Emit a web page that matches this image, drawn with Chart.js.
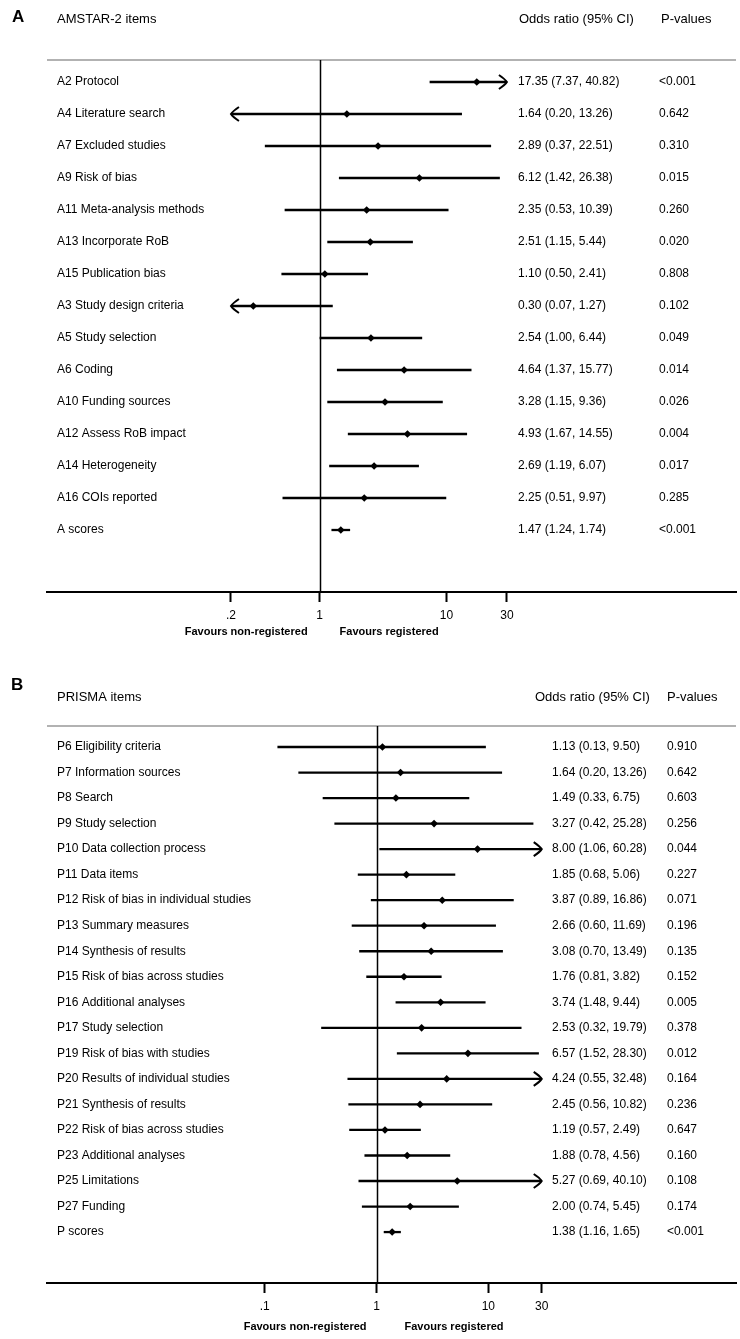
<!DOCTYPE html>
<html>
<head>
<title>Registered vs non-registered reviews</title>
<script src="https://cdn.jsdelivr.net/npm/chart.js@4.4.0/dist/chart.umd.min.js"></script>
<style>
body { margin: 0; background: #fff; }
.panel { position: absolute; left: 0; }
</style>
</head>
<body>
<canvas id="chartA" class="panel" width="740" height="660" style="top:0px"></canvas>
<canvas id="chartB" class="panel" width="740" height="679" style="top:660px"></canvas>
<script>
// Panel A - AMSTAR-2 items
const amstarItems = [
  "A2 Protocol", "A4 Literature search", "A7 Excluded studies", "A9 Risk of bias",
  "A11 Meta-analysis methods", "A13 Incorporate RoB", "A15 Publication bias",
  "A3 Study design criteria", "A5 Study selection", "A6 Coding", "A10 Funding sources",
  "A12 Assess RoB impact", "A14 Heterogeneity", "A16 COIs reported", "A scores"
];
const amstarOR   = [17.35, 1.64, 2.89, 6.12, 2.35, 2.51, 1.10, 0.30, 2.54, 4.64, 3.28, 4.93, 2.69, 2.25, 1.47];
const amstarLow  = [7.37, 0.20, 0.37, 1.42, 0.53, 1.15, 0.50, 0.07, 1.00, 1.37, 1.15, 1.67, 1.19, 0.51, 1.24];
const amstarHigh = [40.82, 13.26, 22.51, 26.38, 10.39, 5.44, 2.41, 1.27, 6.44, 15.77, 9.36, 14.55, 6.07, 9.97, 1.74];
const amstarP = ["<0.001", "0.642", "0.310", "0.015", "0.260", "0.020", "0.808", "0.102",
  "0.049", "0.014", "0.026", "0.004", "0.017", "0.285", "<0.001"];
const amstarTicks = [0.2, 1, 10, 30];
const amstarTickLabels = [".2", "1", "10", "30"];

// Panel B - PRISMA items
const prismaItems = [
  "P6 Eligibility criteria", "P7 Information sources", "P8 Search", "P9 Study selection",
  "P10 Data collection process", "P11 Data items", "P12 Risk of bias in individual studies",
  "P13 Summary measures", "P14 Synthesis of results", "P15 Risk of bias across studies",
  "P16 Additional analyses", "P17 Study selection", "P19 Risk of bias with studies",
  "P20 Results of individual studies", "P21 Synthesis of results", "P22 Risk of bias across studies",
  "P23 Additional analyses", "P25 Limitations", "P27 Funding", "P scores"
];
const prismaOR   = [1.13, 1.64, 1.49, 3.27, 8.00, 1.85, 3.87, 2.66, 3.08, 1.76, 3.74, 2.53, 6.57, 4.24, 2.45, 1.19, 1.88, 5.27, 2.00, 1.38];
const prismaLow  = [0.13, 0.20, 0.33, 0.42, 1.06, 0.68, 0.89, 0.60, 0.70, 0.81, 1.48, 0.32, 1.52, 0.55, 0.56, 0.57, 0.78, 0.69, 0.74, 1.16];
const prismaHigh = [9.50, 13.26, 6.75, 25.28, 60.28, 5.06, 16.86, 11.69, 13.49, 3.82, 9.44, 19.79, 28.30, 32.48, 10.82, 2.49, 4.56, 40.10, 5.45, 1.65];
const prismaP = ["0.910", "0.642", "0.603", "0.256", "0.044", "0.227", "0.071", "0.196", "0.135", "0.152",
  "0.005", "0.378", "0.012", "0.164", "0.236", "0.647", "0.160", "0.108", "0.174", "<0.001"];
const prismaTicks = [0.1, 1, 10, 30];
const prismaTickLabels = [".1", "1", "10", "30"];

const FONT = '"Liberation Sans", Arial, sans-serif';

function arrowHead(ctx, x, y, dir) {
  ctx.beginPath();
  ctx.moveTo(x - dir * 8, y - 7);
  ctx.quadraticCurveTo(x - dir * 2, y - 3, x, y);
  ctx.quadraticCurveTo(x - dir * 2, y + 3, x - dir * 8, y + 7);
  ctx.stroke();
}

function fmt(v) { return v.toFixed(2); }

function makeForest(id, cfg) {
  const forest = {
    id: 'forest',
    beforeDatasetsDraw(chart) {
      const ctx = chart.ctx, xs = chart.scales.x, ys = chart.scales.y, area = chart.chartArea;
      ctx.save();
      // grey line under the header
      ctx.strokeStyle = '#b2b2b2';
      ctx.lineWidth = 2;
      ctx.beginPath();
      ctx.moveTo(area.left, area.top);
      ctx.lineTo(area.right, area.top);
      ctx.stroke();
      // line of no effect
      const x1 = Math.round(xs.getPixelForValue(1)) + 0.5;
      ctx.strokeStyle = '#000';
      ctx.lineWidth = 1.5;
      ctx.beginPath();
      ctx.moveTo(x1, area.top);
      ctx.lineTo(x1, area.bottom);
      ctx.stroke();
      // confidence intervals, cut at the plotted range with arrows
      ctx.lineWidth = 2.3;
      ctx.lineCap = 'butt';
      cfg.low.forEach((lo, i) => {
        const hi = cfg.high[i];
        const y = ys.getPixelForValue(i);
        const xa = xs.getPixelForValue(Math.max(lo, cfg.clip[0]));
        const xb = xs.getPixelForValue(Math.min(hi, cfg.clip[1]));
        ctx.beginPath();
        ctx.moveTo(xa, y);
        ctx.lineTo(xb, y);
        ctx.stroke();
        ctx.save();
        ctx.lineWidth = 2;
        if (lo <= cfg.clip[0]) arrowHead(ctx, xa, y, -1);
        if (hi >= cfg.clip[1]) arrowHead(ctx, xb, y, 1);
        ctx.restore();
      });
      ctx.restore();
    },
    afterDraw(chart) {
      const ctx = chart.ctx, xs = chart.scales.x, ys = chart.scales.y;
      ctx.save();
      ctx.fillStyle = '#000';
      ctx.textBaseline = 'middle';
      ctx.textAlign = 'left';
      ctx.font = 'bold 17px ' + FONT;
      ctx.fillText(cfg.letter, cfg.letterPos[0], cfg.letterPos[1]);
      ctx.font = '13px ' + FONT;
      ctx.fillText(cfg.title, 57, cfg.headerY);
      ctx.fillText('Odds ratio (95% CI)', cfg.orHeadX, cfg.headerY);
      ctx.fillText('P-values', cfg.pHeadX, cfg.headerY);
      ctx.font = '12px ' + FONT;
      cfg.items.forEach((name, i) => {
        const y = ys.getPixelForValue(i);
        ctx.fillText(name, 57, y);
        ctx.fillText(fmt(cfg.or[i]) + ' (' + fmt(cfg.low[i]) + ', ' + fmt(cfg.high[i]) + ')', cfg.orX, y);
        ctx.fillText(cfg.p[i], cfg.pX, y);
      });
      const x1 = xs.getPixelForValue(1);
      ctx.font = 'bold 11px ' + FONT;
      ctx.textAlign = 'right';
      ctx.fillText('Favours non-registered', x1 - cfg.favGap[0], cfg.favY);
      ctx.textAlign = 'left';
      ctx.fillText('Favours registered', x1 + cfg.favGap[1], cfg.favY);
      ctx.restore();
    }
  };

  return new Chart(document.getElementById(id), {
    type: 'scatter',
    data: {
      datasets: [{
        data: cfg.or.map((v, i) => ({ x: v, y: i })),
        pointStyle: 'rectRot',
        pointRadius: 3.8,
        pointBackgroundColor: '#000',
        pointBorderWidth: 0,
        showLine: false
      }]
    },
    options: {
      responsive: false,
      animation: false,
      layout: { padding: cfg.padding },
      plugins: { legend: { display: false }, tooltip: { enabled: false } },
      scales: {
        x: {
          type: 'logarithmic',
          min: cfg.xRange[0],
          max: cfg.xRange[1],
          bounds: 'data',
          afterBuildTicks: scale => { scale.ticks = cfg.ticks.map(v => ({ value: v })); },
          grid: { drawOnChartArea: false, drawTicks: true, tickLength: 10, tickWidth: 2, tickColor: '#000' },
          border: { display: true, color: '#000', width: 2 },
          ticks: {
            autoSkip: false,
            maxRotation: 0,
            padding: 6,
            color: '#000',
            font: { family: FONT, size: 12 },
            callback: v => cfg.tickLabels[cfg.ticks.indexOf(v)]
          }
        },
        y: {
          type: 'linear',
          display: false,
          reverse: true,
          min: cfg.yRange[0],
          max: cfg.yRange[1]
        }
      }
    },
    plugins: [forest]
  });
}

makeForest('chartA', {
  letter: 'A', letterPos: [12, 17], title: 'AMSTAR-2 items', headerY: 19,
  items: amstarItems, or: amstarOR, low: amstarLow, high: amstarHigh, p: amstarP,
  ticks: amstarTicks, tickLabels: amstarTickLabels, clip: [0.2, 30],
  xRange: [0.007087, 1920.6], yRange: [-0.6875, 15.9375],
  padding: { top: 60, left: 47, right: 3, bottom: 31.6 },
  orHeadX: 519, pHeadX: 661, orX: 518, pX: 659,
  favY: 632, favGap: [12, 20]
});

makeForest('chartB', {
  letter: 'B', letterPos: [11, 25], title: 'PRISMA items', headerY: 37,
  items: prismaItems, or: prismaOR, low: prismaLow, high: prismaHigh, p: prismaP,
  ticks: prismaTicks, tickLabels: prismaTickLabels, clip: [0.1, 30],
  xRange: [0.001131, 1638], yRange: [-0.8226, 20.995],
  padding: { top: 66, left: 47, right: 3, bottom: 19.6 },
  orHeadX: 535, pHeadX: 667, orX: 552, pX: 667,
  favY: 667, favGap: [10, 28]
});
</script>
</body>
</html>
